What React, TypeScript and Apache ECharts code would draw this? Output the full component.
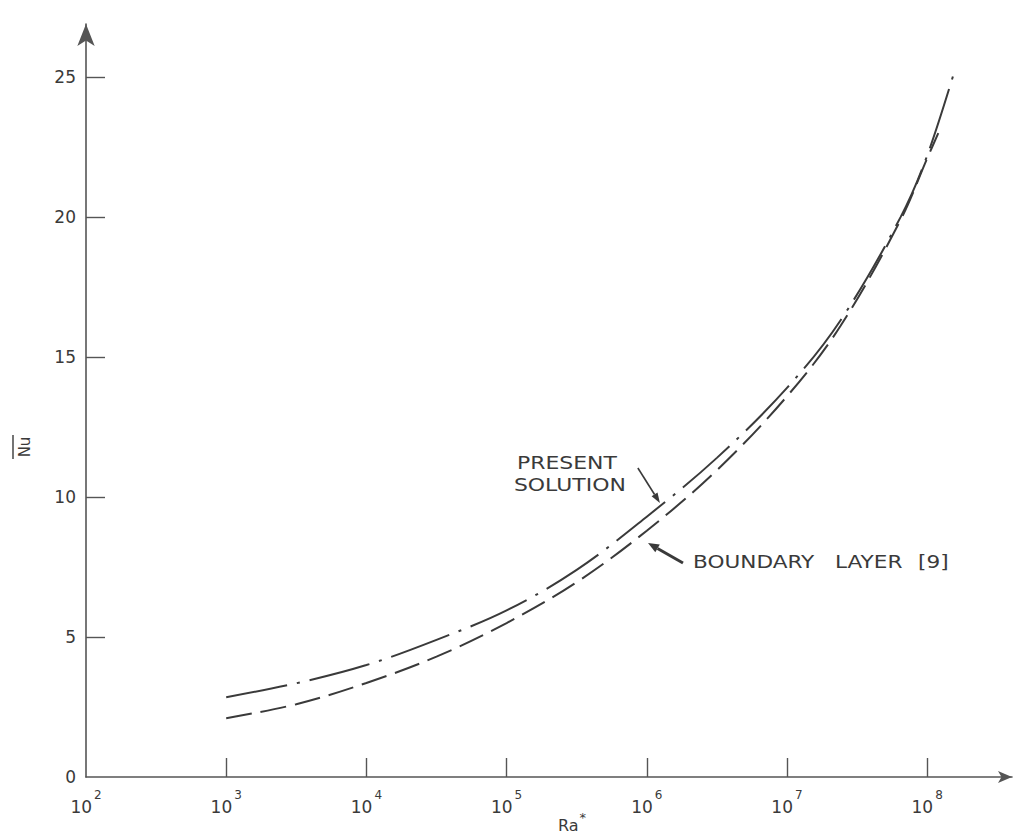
import React, { useEffect, useRef } from "react";
import * as echarts from "echarts";

// ---- data ----
const RA_PRESENT = [1e3, 3162, 1e4, 31623, 1e5, 316228, 1e6, 3162278, 1e7, 2.4e7, 6.46e7, 1e8, 1.585e8];
const NU_PRESENT = [2.85, 3.35, 4.0, 4.9, 5.95, 7.4, 9.3, 11.4, 13.9, 16.3, 20.0, 22.2, 25.3];
const RA_BOUNDARY = [1e3, 3162, 1e4, 31623, 1e5, 316228, 1e6, 3162278, 1e7, 2.4e7, 6.46e7, 1e8, 1.2e8];
const NU_BOUNDARY = [2.1, 2.6, 3.36, 4.3, 5.5, 6.96, 8.8, 10.96, 13.6, 16.1, 19.9, 22.1, 23.0];

const X_TICKS = [1e3, 1e4, 1e5, 1e6, 1e7, 1e8];
const X_LABELS = [1e2, 1e3, 1e4, 1e5, 1e6, 1e7, 1e8];
const Y_TICKS = [5, 10, 15, 20, 25];
const Y_LABELS = [0, 5, 10, 15, 20, 25];

const LABEL_PRESENT = ["PRESENT", "SOLUTION"];
const LABEL_BOUNDARY = ["BOUNDARY", "LAYER", "[9]"];
// annotation anchors (data coordinates where the arrows touch the curves)
const PRESENT_ARROW_TIP: [number, number] = [1.24e6, 9.79];
const BOUNDARY_ARROW_TIP: [number, number] = [1.02e6, 8.36];

const FONT = "DejaVu Sans";
const INK = "#3a3a3a";
const AXIS = "#555";

function zip(xs: number[], ys: number[]) {
  return xs.map((x, i) => [x, ys[i]]);
}

function arrowEls(tail: number[], tip: number[], lw: number, hl: number, hw: number) {
  const dx = tip[0] - tail[0];
  const dy = tip[1] - tail[1];
  const L = Math.hypot(dx, dy);
  const ux = dx / L, uy = dy / L;
  const bx = tip[0] - ux * hl, by = tip[1] - uy * hl;
  const nx = -uy, ny = ux;
  return [
    { type: "line", shape: { x1: tail[0], y1: tail[1], x2: bx, y2: by }, style: { stroke: INK, lineWidth: lw } },
    {
      type: "polygon",
      shape: { points: [[tip[0], tip[1]], [bx + (nx * hw) / 2, by + (ny * hw) / 2], [bx - (nx * hw) / 2, by - (ny * hw) / 2]] },
      style: { fill: INK },
    },
  ];
}

export default function App() {
  const ref = useRef<HTMLDivElement>(null);
  useEffect(() => {
    if (!ref.current) return;
    const chart = echarts.init(ref.current, null, { renderer: "svg" });
    const option: any = {
      animation: false,
      backgroundColor: "#ffffff",
      grid: { left: 86, right: 9, top: 24, bottom: 59, containLabel: false },
      xAxis: {
        type: "log",
        logBase: 10,
        min: 100,
        max: Math.pow(10, 8.605),
        axisLine: { show: true, onZero: false, symbol: ["none", "arrow"], symbolSize: [9, 14], lineStyle: { color: AXIS, width: 1.6 } },
        axisTick: { show: true, inside: true, length: 19, customValues: X_TICKS, lineStyle: { color: AXIS, width: 1.4 } },
        minorTick: { show: false },
        splitLine: { show: false },
        axisLabel: {
          customValues: X_LABELS,
          margin: 12,
          formatter: (v: number) => "{b|10}{s|" + Math.round(Math.log10(v)) + "}",
          rich: {
            b: { fontSize: 17, fontFamily: FONT, color: INK, lineHeight: 26, verticalAlign: "bottom" },
            s: { fontSize: 12, fontFamily: FONT, color: INK, lineHeight: 12, verticalAlign: "top", padding: [0, 0, 0, 2] },
          },
        },
      },
      yAxis: {
        type: "value",
        min: 0,
        max: 26.9,
        axisLine: { show: true, onZero: false, symbol: ["none", "arrow"], symbolSize: [13, 22], lineStyle: { color: AXIS, width: 1.6 } },
        axisTick: { show: true, inside: true, length: 19, customValues: Y_TICKS, lineStyle: { color: AXIS, width: 1.4 } },
        splitLine: { show: false },
        axisLabel: { customValues: Y_LABELS, fontSize: 17, fontFamily: FONT, color: INK, margin: 10 },
      },
      series: [
        {
          name: "Present solution",
          type: "line",
          data: zip(RA_PRESENT, NU_PRESENT),
          smooth: 0.35,
          showSymbol: false,
          symbol: "none",
          lineStyle: { color: INK, width: 2, type: [62, 10, 3, 10] },
        },
        {
          name: "Boundary layer [9]",
          type: "line",
          data: zip(RA_BOUNDARY, NU_BOUNDARY),
          smooth: 0.35,
          showSymbol: false,
          symbol: "none",
          lineStyle: { color: INK, width: 2, type: [26, 9] },
        },
      ],
    };
    chart.setOption(option);

    const pTip = chart.convertToPixel({ gridIndex: 0 }, PRESENT_ARROW_TIP) as number[];
    const bTip = chart.convertToPixel({ gridIndex: 0 }, BOUNDARY_ARROW_TIP) as number[];
    const pTail = [pTip[0] - 22, pTip[1] - 35];
    const bTail = [bTip[0] + 35, bTip[1] + 20];
    const F18 = `18px "${FONT}"`;
    const boundaryOffsets = [10, 152, 235];

    const graphic: any[] = [
      ...arrowEls(pTail, pTip, 1.6, 10, 7),
      ...arrowEls(bTail, bTip, 3, 11, 9),
      {
        type: "text",
        x: pTail[0] - 71,
        y: pTail[1] - 5,
        scaleX: 1.22,
        style: { text: LABEL_PRESENT[0], font: F18, fill: INK, textAlign: "center", textVerticalAlign: "middle" },
      },
      {
        type: "text",
        x: pTail[0] - 68,
        y: pTail[1] + 17,
        scaleX: 1.22,
        style: { text: LABEL_PRESENT[1], font: F18, fill: INK, textAlign: "center", textVerticalAlign: "middle" },
      },
      ...LABEL_BOUNDARY.map((t, i) => ({
        type: "text",
        x: bTail[0] + boundaryOffsets[i],
        y: bTail[1] - 1,
        scaleX: 1.2,
        style: { text: t, font: F18, fill: INK, textAlign: "left", textVerticalAlign: "middle" },
      })),
      {
        type: "text",
        x: 572,
        y: 822,
        style: {
          text: "{a|Ra}{s|*}",
          font: `16px "${FONT}"`,
          fill: INK,
          textAlign: "center",
          textVerticalAlign: "middle",
          rich: {
            a: { font: `16px "${FONT}"`, fill: INK, lineHeight: 22, verticalAlign: "bottom" },
            s: { font: `13px "${FONT}"`, fill: INK, lineHeight: 13, verticalAlign: "top", padding: [0, 0, 0, 1] },
          },
        },
      },
      {
        type: "group",
        x: 25,
        y: 447,
        rotation: Math.PI / 2,
        children: [
          {
            type: "text",
            x: 0,
            y: 0,
            style: { text: "Nu", font: `15px "${FONT}"`, fill: INK, textAlign: "center", textVerticalAlign: "middle" },
          },
          { type: "line", shape: { x1: -12, y1: -12, x2: 12, y2: -12 }, style: { stroke: INK, lineWidth: 1.4 } },
        ],
      },
    ];
    chart.setOption({ graphic });

    return () => chart.dispose();
  }, []);
  return (
    <div
      ref={ref}
      style={{ position: "fixed", left: 0, top: 0, width: 1021, height: 836, background: "#fff" }}
    />
  );
}
